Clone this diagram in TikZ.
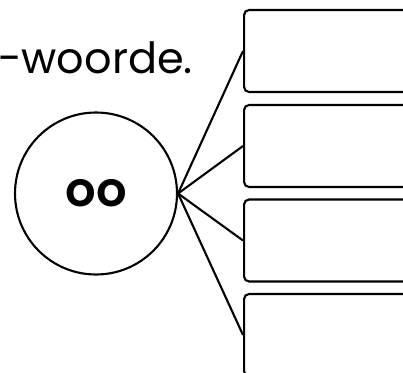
\documentclass[tikz,border=0pt]{standalone}
\usepackage{fontspec}
\setmainfont{Poppins}
\newfontfamily\klankfont{Poppins}[UprightFont=* SemiBold]
\usetikzlibrary{positioning}

\begin{document}
\begin{tikzpicture}[x=1pt,y=-1pt,
  woordbox/.style={draw,line width=2.1pt,rounded corners=5pt,minimum width=200pt,minimum height=82pt,anchor=west,inner sep=0pt},
  klank/.style={draw,circle,line width=2.1pt,minimum size=162pt,inner sep=0pt}]
  \clip (0,0) rectangle (403,372);
  \node[anchor=base east,inner sep=0pt,font=\fontsize{43}{50}\selectfont] (opdrag) at (193,73) {o-woorde.};
  \node[klank,font=\fontsize{48}{56}\selectfont\klankfont] (oo) at (96,193.5) {oo};
  \node[woordbox] (woord1) at (243,51) {};
  \node[woordbox] (woord2) at (243,146) {};
  \node[woordbox] (woord3) at (243,240.5) {};
  \node[woordbox] (woord4) at (243,335) {};
  \draw[line width=2.1pt] (oo.east) -- (woord1.west);
  \draw[line width=2.1pt] (oo.east) -- (woord2.west);
  \draw[line width=2.1pt] (oo.east) -- (woord3.west);
  \draw[line width=2.1pt] (oo.east) -- (woord4.west);
\end{tikzpicture}
\end{document}
